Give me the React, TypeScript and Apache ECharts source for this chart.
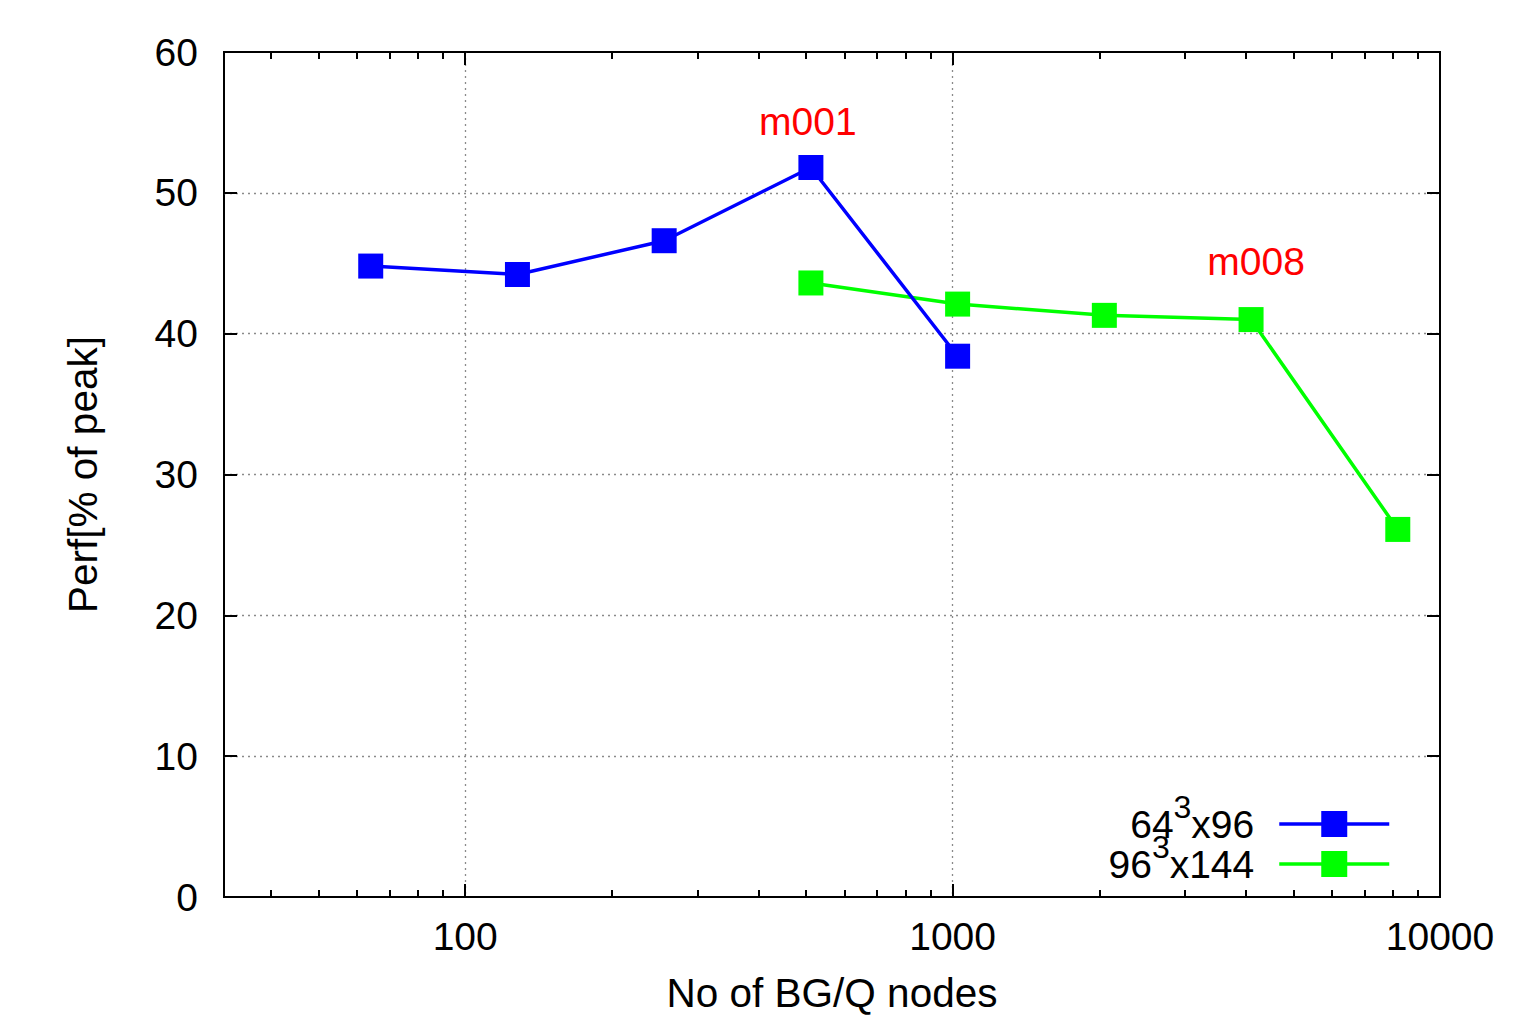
import React, { useEffect, useRef } from 'react';
import * as echarts from 'echarts';

// ---- data ----
const seriesNames = ['64³x96', '96³x144'];
const nodesA = [64, 128, 256, 512, 1024];
const perfA = [44.8, 44.2, 46.6, 51.8, 38.4];
const nodesB = [512, 1024, 2048, 4096, 8192];
const perfB = [43.6, 42.1, 41.3, 41.0, 26.1];
const notesA = ['', '', '', 'm001', ''];
const notesB = ['', '', '', 'm008', ''];

const xMin = 32;
const xMax = 10000;
const xMajorTicks = [100, 1000, 10000];
const xMinorTicks = [40, 50, 60, 70, 80, 90, 200, 300, 400, 500, 600, 700, 800, 900, 2000, 3000, 4000, 5000, 6000, 7000, 8000, 9000];
const yMin = 0;
const yMax = 60;
const yStep = 10;

const xTitle = 'No of BG/Q nodes';
const yTitle = 'Perf[% of peak]';

const FONT = '"Liberation Sans", Arial, Helvetica, sans-serif';
const FS = 39;
const FT = 40.5;
const lg = (v: number) => Math.log10(v);

export default function App() {
  const ref = useRef<HTMLDivElement>(null);
  useEffect(() => {
    if (!ref.current) return;
    const chart = echarts.init(ref.current, null, { renderer: 'svg' });

    const dotted = { color: '#8a8a8a', width: 1.3, type: [2, 4] as any };
    const baseX = {
      type: 'value' as const,
      min: lg(xMin),
      max: lg(xMax),
      axisLine: { show: false },
    };
    const majorTickStyle = { show: true, inside: true, length: 13, lineStyle: { color: '#000', width: 2 } };
    const minorTickStyle = { show: true, inside: true, length: 7, lineStyle: { color: '#000', width: 2 } };

    const mkData = (nodes: number[], perf: number[], notes: string[], dx: number, dist: number) =>
      nodes.map((n, i) => {
        const item: any = { value: [lg(n), perf[i]] };
        if (notes[i]) {
          item.label = {
            show: true,
            formatter: notes[i],
            position: 'top',
            distance: dist,
            offset: [dx, 0],
            color: '#ff0000',
            fontSize: FS,
            fontFamily: FONT,
          };
        }
        return item;
      });

    chart.setOption({
      animation: false,
      backgroundColor: '#ffffff',
      grid: {
        left: 224, right: 75, top: 52, bottom: 121,
        outerBoundsMode: 'none',
        containLabel: false,
        show: true, borderColor: '#000', borderWidth: 2, backgroundColor: 'transparent',
      },
      xAxis: [
        {
          ...baseX,
          position: 'bottom',
          axisTick: { ...majorTickStyle, customValues: xMajorTicks.map(lg) },
          axisLabel: {
            customValues: xMajorTicks.map(lg),
            formatter: (v: number) => String(Math.round(Math.pow(10, v))),
            color: '#000', fontSize: FS, fontFamily: FONT, margin: 20,
          },
          splitLine: { show: true, lineStyle: dotted, showMinLine: true, showMaxLine: false },
          name: xTitle,
          nameLocation: 'middle',
          nameGap: 77,
          nameTextStyle: { color: '#000', fontSize: FT, fontFamily: FONT, lineHeight: 38 },
        },
        {
          ...baseX,
          position: 'bottom',
          axisTick: { ...minorTickStyle, customValues: xMinorTicks.map(lg) },
          axisLabel: { show: false },
          splitLine: { show: false },
        },
        {
          ...baseX,
          position: 'top',
          axisTick: { ...majorTickStyle, customValues: xMajorTicks.map(lg) },
          axisLabel: { show: false },
          splitLine: { show: false },
        },
        {
          ...baseX,
          position: 'top',
          axisTick: { ...minorTickStyle, customValues: xMinorTicks.map(lg) },
          axisLabel: { show: false },
          splitLine: { show: false },
        },
      ],
      yAxis: [
        {
          type: 'value',
          min: yMin, max: yMax, interval: yStep,
          position: 'left',
          axisLine: { show: false },
          axisTick: majorTickStyle,
          axisLabel: { color: '#000', fontSize: FS, fontFamily: FONT, margin: 26 },
          splitLine: { show: true, lineStyle: dotted, showMinLine: false, showMaxLine: false },
          name: yTitle,
          nameLocation: 'middle',
          nameGap: 121,
          nameTextStyle: { color: '#000', fontSize: FT, fontFamily: FONT },
        },
        {
          type: 'value',
          min: yMin, max: yMax, interval: yStep,
          position: 'right',
          axisLine: { show: false },
          axisTick: majorTickStyle,
          axisLabel: { show: false },
          splitLine: { show: false },
        },
      ],
      legend: {
        orient: 'vertical',
        right: 124,
        top: 791,
        align: 'right',
        padding: 0,
        itemWidth: 110,
        itemHeight: 32.5,
        itemGap: -26,
        data: seriesNames,
        lineStyle: { width: 3.5 },
        formatter: (name: string) => {
          const [a, b] = name.split('³');
          return `{t|${a}}{s|3}{e|${b}}`;
        },
        textStyle: {
          color: '#000',
          fontFamily: FONT,
          fontSize: FS,
          rich: {
            t: { fontSize: FS, fontFamily: FONT, color: '#000', lineHeight: 40, verticalAlign: 'middle' },
            s: { fontSize: 32, fontFamily: FONT, color: '#000', lineHeight: 30, padding: [0, 0, 34, 0], verticalAlign: 'middle' },
            e: { fontSize: FS, fontFamily: FONT, color: '#000', lineHeight: 40, padding: [0, 20, 0, 0], verticalAlign: 'middle' },
          },
        },
      },
      series: [
        {
          name: seriesNames[0],
          type: 'line',
          xAxisIndex: 0, yAxisIndex: 0,
          data: mkData(nodesA, perfA, notesA, -3, 14),
          symbol: 'rect',
          symbolSize: 25,
          lineStyle: { color: '#0000ff', width: 3.5 },
          itemStyle: { color: '#0000ff' },
          z: 3,
        },
        {
          name: seriesNames[1],
          type: 'line',
          xAxisIndex: 0, yAxisIndex: 0,
          data: mkData(nodesB, perfB, notesB, 5, 26),
          symbol: 'rect',
          symbolSize: 25,
          lineStyle: { color: '#00ff00', width: 3.5 },
          itemStyle: { color: '#00ff00' },
          z: 2,
        },
      ],
    });
    return () => chart.dispose();
  }, []);
  return <div ref={ref} style={{ position: 'absolute', left: 0, top: 0, width: 1515, height: 1018 }} />;
}
